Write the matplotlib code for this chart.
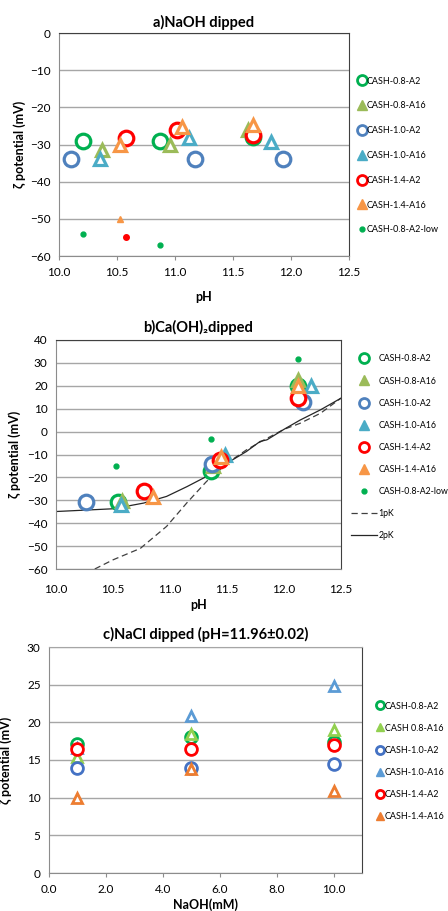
import matplotlib
matplotlib.use("Agg")
import matplotlib.pyplot as plt
from matplotlib.lines import Line2D

plt.rcParams['font.family'] = ['Lato', 'DejaVu Sans']

# ---- panel a: NaOH dipped ----
a_names = ['CASH-0.8-A2', 'CASH-0.8-A16', 'CASH-1.0-A2',
           'CASH-1.0-A16', 'CASH-1.4-A2', 'CASH-1.4-A16']
a_ph = [[10.21, 10.87, 11.67],
        [10.37, 10.96, 11.63],
        [10.10, 11.17, 11.93],
        [10.35, 11.12, 11.83],
        [10.58, 11.02, 11.67],
        [10.53, 11.06, 11.67]]
a_zeta = [[-29.0, -29.0, -28.0],
          [-31.6, -30.0, -26.2],
          [-34.0, -34.0, -34.0],
          [-34.0, -28.2, -29.3],
          [-28.2, -26.2, -27.5],
          [-30.0, -25.3, -24.8]]
a_low_ph = [10.21, 10.87]
a_low_zeta = [-54.0, -57.0]
a_low_red_ph = [10.58]
a_low_red_zeta = [-55.0]
a_low_orange_ph = [10.53]
a_low_orange_zeta = [-50.0]

# ---- panel b: Ca(OH)2 dipped ----
b_ph = [[10.54, 11.36, 12.12],
        [10.58, 11.38, 12.12],
        [10.26, 11.37, 12.17],
        [10.57, 11.48, 12.24],
        [10.77, 11.44, 12.12],
        [10.85, 11.45, 12.12]]
b_zeta = [[-30.8, -17.4, 20.0],
          [-30.5, -15.0, 22.5],
          [-30.8, -14.2, 12.8],
          [-32.0, -10.4, 20.0],
          [-25.8, -12.3, 14.6],
          [-28.6, -11.3, 20.0]]
b_low_ph = [10.53, 11.36, 12.12]
b_low_zeta = [-15.0, -3.2, 31.7]
pk1_ph = [10.34, 10.50, 10.74, 10.97, 11.15, 11.32, 11.50, 11.67, 11.80, 12.00, 12.14, 12.32, 12.50]
pk1_zeta = [-60.0, -56.0, -51.0, -41.4, -31.0, -21.8, -13.8, -8.0, -4.3, 1.0, 3.6, 8.0, 14.6]
pk2_ph = [10.00, 10.50, 10.77, 10.97, 11.15, 11.32, 11.50, 11.67, 11.79, 11.85, 12.00, 12.14, 12.32, 12.50]
pk2_zeta = [-34.9, -33.7, -31.2, -28.3, -24.0, -19.6, -13.8, -8.7, -4.3, -3.6, 1.0, 5.0, 9.5, 14.6]

# ---- panel c: NaCl dipped ----
c_naoh = [1.0, 5.0, 10.0]
c_zeta = [[17.1, 18.0, 17.4],
          [15.4, 18.5, 19.0],
          [13.9, 14.0, 14.5],
          [16.6, 20.9, 24.8],
          [16.4, 16.4, 17.0],
          [9.9, 13.8, 10.9]]
c_names = ['CASH-0.8-A2', 'CASH 0.8-A16', 'CASH-1.0-A2',
           'CASH-1.0-A16', 'CASH-1.4-A2', 'CASH-1.4-A16']

ab_colors = ['#00B050', '#9BBB59', '#4F81BD', '#4BACC6', '#FF0000', '#F79646']
c_colors = ['#00B050', '#92D050', '#4472C4', '#5B9BD5', '#FF0000', '#ED7D31']
shapes = ['o', '^', 'o', '^', 'o', '^']

W, H = 448, 911
fig = plt.figure(figsize=(W / 100, H / 100), dpi=100)


def box(l, t, r, b):
    return [l / W, 1 - b / H, (r - l) / W, (b - t) / H]


def style(ax):
    ax.grid(axis='y', color='#A6A6A6', lw=1)
    ax.set_axisbelow(True)
    for s in ['left', 'bottom']:
        ax.spines[s].set_color('#8C8C8C')
    for s in ['top', 'right']:
        ax.spines[s].set_color('#404040')
    ax.tick_params(axis='y', length=0, labelsize=8.5, pad=6)
    ax.tick_params(axis='x', length=3, color='#8C8C8C', labelsize=8.5, pad=5)


def handles(colors, names, ms):
    hs = []
    for col, sh, nm in zip(colors, shapes, names):
        if sh == 'o':
            hs.append(Line2D([], [], ls='none', marker='o', ms=ms * 0.65, mfc='white',
                             mec=col, mew=2, label=nm))
        else:
            hs.append(Line2D([], [], ls='none', marker='^', ms=ms * 0.7, mfc=col,
                             mec=col, label=nm))
    return hs


def scatter(ax, xs, ys, colors, ms, mew):
    for x, y, col, sh in zip(xs, ys, colors, shapes):
        size = ms if sh == 'o' else ms * 0.88
        ax.plot(x, y, ls='none', marker=sh, ms=size, mfc='white', mec=col, mew=mew)


ticks_ph = [10, 10.5, 11, 11.5, 12, 12.5]
ticklabels_ph = ['10.0', '10.5', '11.0', '11.5', '12.0', '12.5']

# panel a
ax = fig.add_axes(box(59, 33, 349, 256))
style(ax)
scatter(ax, a_ph, a_zeta, ab_colors, 10.5, 2.3)
ax.plot(a_low_ph, a_low_zeta, ls='none', marker='o', ms=3.5, color='#00B050')
ax.plot(a_low_red_ph, a_low_red_zeta, ls='none', marker='o', ms=4, color='#FF0000')
ax.plot(a_low_orange_ph, a_low_orange_zeta, ls='none', marker='^', ms=4.5, color='#F79646')
ax.set_xlim(10, 12.5)
ax.set_ylim(-60, 0)
ax.set_xticks(ticks_ph)
ax.set_xticklabels(ticklabels_ph)
ax.set_yticks(range(-60, 1, 10))
ax.set_title('a)NaOH dipped', fontsize=10.5, fontweight='bold', pad=4)
ax.set_xlabel('pH', fontsize=9, fontweight='bold', labelpad=9)
ax.set_ylabel('ζ potential (mV)', fontsize=9, fontweight='bold', labelpad=3)
hs = handles(ab_colors, a_names, 11)
hs.append(Line2D([], [], ls='none', marker='o', ms=3.5, color='#00B050', label='CASH-0.8-A2-low'))
ax.legend(handles=hs, loc='upper left', bbox_to_anchor=(353 / W, 1 - 72 / H),
          bbox_transform=fig.transFigure, frameon=False, fontsize=6.5,
          handlelength=0.9, handletextpad=0.15, labelspacing=1.75, borderpad=0)

# panel b
ax = fig.add_axes(box(56, 340, 341, 569))
style(ax)
ax.plot(pk1_ph, pk1_zeta, color='#404040', lw=0.9, ls=(0, (5, 3)), label='1pK')
ax.plot(pk2_ph, pk2_zeta, color='#262626', lw=0.9, label='2pK')
scatter(ax, b_ph, b_zeta, ab_colors, 10.5, 2.3)
ax.plot(b_low_ph, b_low_zeta, ls='none', marker='o', ms=3.5, color='#00B050')
ax.set_xlim(10, 12.5)
ax.set_ylim(-60, 40)
ax.set_xticks(ticks_ph)
ax.set_xticklabels(ticklabels_ph)
ax.set_yticks(range(-60, 41, 10))
ax.tick_params(axis='x', length=0, pad=11)
ax.set_title('b)Ca(OH)₂dipped', fontsize=10.5, fontweight='bold', pad=6)
ax.set_xlabel('pH', fontsize=9, fontweight='bold', labelpad=3)
ax.set_ylabel('ζ potential (mV)', fontsize=9, fontweight='bold', labelpad=4)
hs = handles(ab_colors, a_names, 11)
hs.append(Line2D([], [], ls='none', marker='o', ms=3.5, color='#00B050', label='CASH-0.8-A2-low'))
hs.append(Line2D([], [], color='#404040', lw=0.9, ls=(0, (5, 3)), label='1pK'))
hs.append(Line2D([], [], color='#262626', lw=0.9, label='2pK'))
ax.legend(handles=hs, loc='upper left', bbox_to_anchor=(347 / W, 1 - 350 / H),
          bbox_transform=fig.transFigure, frameon=False, fontsize=6.3,
          handlelength=2.9, handletextpad=0.2, labelspacing=1.5, borderpad=0)

# panel c
ax = fig.add_axes(box(49, 647, 362, 873))
style(ax)
ax.spines['top'].set_color('#A6A6A6')
for ys, col, sh in zip(c_zeta, c_colors, shapes):
    ax.plot(c_naoh, ys, ls='none', marker=sh, ms=8.5 if sh == 'o' else 7.8,
            mfc='white', mec=col, mew=2)
ax.set_xlim(0, 11)
ax.set_ylim(0, 30)
ax.set_xticks([0, 2, 4, 6, 8, 10])
ax.set_xticklabels(['0.0', '2.0', '4.0', '6.0', '8.0', '10.0'])
ax.set_yticks(range(0, 31, 5))
ax.set_title('c)NaCl dipped (pH=11.96±0.02)', fontsize=10.5, fontweight='bold', pad=6)
ax.set_xlabel('NaOH(mM)', fontsize=9, fontweight='bold', labelpad=2)
ax.set_ylabel('ζ potential (mV)', fontsize=9, fontweight='bold', labelpad=11)
hs = handles(c_colors, c_names, 9)
ax.legend(handles=hs, loc='upper left', bbox_to_anchor=(371 / W, 1 - 697 / H),
          bbox_transform=fig.transFigure, frameon=False, fontsize=6.5,
          handlelength=0.9, handletextpad=0.15, labelspacing=1.45, borderpad=0)

fig.savefig('out.png', dpi=100)
